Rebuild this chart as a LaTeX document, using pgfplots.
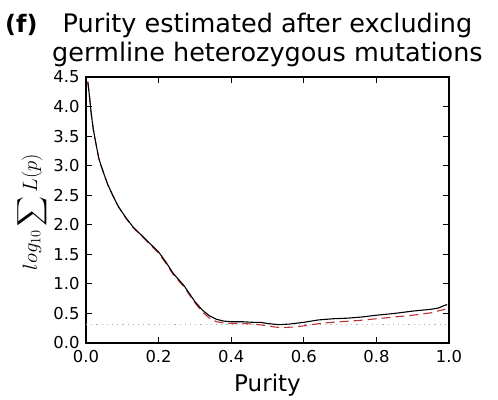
\documentclass[border=0pt]{standalone}
\usepackage{pgfplots}
\pgfplotsset{compat=1.18}
\usepackage{exscale}
\usepackage{fontspec}
\setmainfont{DejaVu Sans}
\begin{document}
\begin{tikzpicture}
\path[use as bounding box] (-86pt,-56pt) rectangle (412pt,343pt);
\begin{axis}[
  at={(0pt,0pt)}, anchor=south west,
  scale only axis, width=363pt, height=266pt,
  xmin=0, xmax=1, ymin=0, ymax=4.5,
  xtick={0,0.2,0.4,0.6,0.8,1.0},
  ytick={0,0.5,1,1.5,2,2.5,3,3.5,4,4.5},
  xticklabel style={yshift=-4pt, /pgf/number format/.cd, fixed, fixed zerofill, precision=1},
  yticklabel style={xshift=-3pt, /pgf/number format/.cd, fixed, fixed zerofill, precision=1},
  /pgf/number format/assume math mode=true,
  tick label style={font=\fontsize{16.4}{18}\selectfont},
  tick align=inside, major tick length=6pt,
  tick style={black, line width=0.9pt},
  axis line style={black, line width=1.4pt},
  xtick pos=both, ytick pos=both,
  clip=true,
]
\addplot[gray!60, dash pattern=on 1.2pt off 4pt, line width=1.2pt] coordinates {(0,0.31) (1,0.31)};
\addplot[color={rgb,255:red,190;green,50;blue,50}, dash pattern=on 9pt off 5pt, line width=1.1pt] coordinates {
(0.005,4.42) (0.010,4.15) (0.015,3.85) (0.020,3.62) (0.025,3.45) (0.030,3.29)
(0.035,3.13) (0.040,3.03) (0.050,2.85) (0.060,2.68) (0.075,2.48) (0.090,2.30) (0.110,2.11)
(0.130,1.95) (0.160,1.77) (0.180,1.64) (0.200,1.52) (0.220,1.35) (0.240,1.16)
(0.260,1.02) (0.270,0.95) (0.280,0.86) (0.300,0.68) (0.320,0.53) (0.340,0.42)
(0.360,0.36) (0.380,0.34) (0.400,0.33) (0.430,0.33) (0.460,0.32) (0.490,0.30)
(0.520,0.27) (0.540,0.26) (0.570,0.27) (0.600,0.29) (0.620,0.31) (0.660,0.34)
(0.700,0.36) (0.750,0.38) (0.800,0.41) (0.850,0.44) (0.900,0.47) (0.950,0.51)
(0.975,0.55) (0.990,0.57)
};
\addplot[black, line width=1.1pt] coordinates {
(0.005,4.42) (0.010,4.15) (0.015,3.85) (0.020,3.62) (0.025,3.45) (0.030,3.29)
(0.035,3.13) (0.040,3.03) (0.050,2.85) (0.060,2.68) (0.075,2.48) (0.090,2.30) (0.110,2.12)
(0.130,1.96) (0.160,1.78) (0.180,1.66) (0.200,1.54) (0.220,1.37) (0.240,1.18)
(0.260,1.04) (0.270,0.97) (0.280,0.88) (0.300,0.70) (0.320,0.56) (0.340,0.46)
(0.360,0.40) (0.380,0.37) (0.400,0.36) (0.430,0.36) (0.460,0.35) (0.480,0.35)
(0.500,0.33) (0.530,0.31) (0.560,0.32) (0.600,0.35) (0.640,0.39) (0.680,0.41)
(0.720,0.42) (0.760,0.44) (0.800,0.47) (0.850,0.50) (0.900,0.54) (0.950,0.57)
(0.970,0.59) (0.985,0.63) (0.995,0.65)
};
\end{axis}
\node[anchor=base, font=\fontsize{25.5}{30}\selectfont, inner sep=0pt] at (181.5pt,310pt) {Purity estimated after excluding};
\node[anchor=base, font=\fontsize{25.5}{30}\selectfont, inner sep=0pt] at (181.5pt,281.3pt) {germline heterozygous mutations};
\node[anchor=base west, font=\fontsize{24}{30}\selectfont\bfseries, inner sep=0pt] at (-81pt,310pt) {(f)};
\node[anchor=base, font=\fontsize{23}{28}\selectfont, inner sep=0pt] at (181.5pt,-48pt) {Purity};
\node[rotate=90, font=\fontsize{22}{26}\selectfont, inner sep=0pt] at (-54pt,131pt) {$log_{10}\displaystyle\sum L(p)$};
\end{tikzpicture}
\end{document}
